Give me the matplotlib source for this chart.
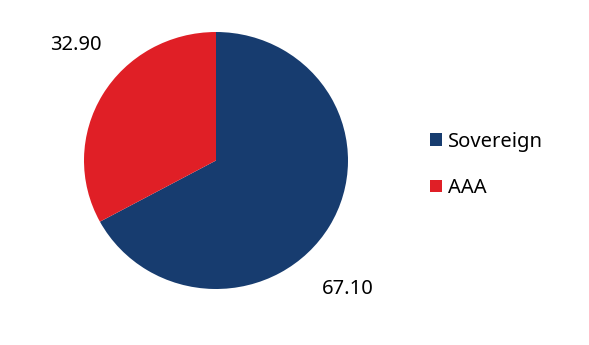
import matplotlib
matplotlib.use("Agg")
import matplotlib.pyplot as plt

labels = ["Sovereign", "AAA"]
values = [67.10, 32.90]
colors = ["#173c6f", "#e01f26"]

plt.rcParams["font.family"] = ["Noto Sans", "DejaVu Sans"]

W, H = 589, 345
fig = plt.figure(figsize=(W / 100, H / 100), dpi=100)
cx, cy, rx, ry = 216, 160.5, 132, 128.5
ax = fig.add_axes([(cx - rx) / W, (H - cy - ry) / H, 2 * rx / W, 2 * ry / H])
wedges, _ = ax.pie(values, colors=colors, startangle=90, counterclock=False,
                   radius=1, wedgeprops=dict(linewidth=0))
ax.set_xlim(-1, 1); ax.set_ylim(-1, 1); ax.set_aspect("auto")

# value labels
ax.text(1.0, -1.0, f"{values[0]:.2f}", ha="center", va="center", fontsize=14.5, clip_on=False)
ax.text(-1.06, 0.9, f"{values[1]:.2f}", ha="center", va="center", fontsize=14.5, clip_on=False)

fig.legend(wedges, labels, loc="center left", bbox_to_anchor=(420 / W, (H - 165) / H),
           frameon=False, fontsize=14.5, handlelength=0.6, handleheight=0.6,
           handletextpad=0.3, labelspacing=1.3, borderpad=0)

fig.savefig("out.png", dpi=100, facecolor="white")
